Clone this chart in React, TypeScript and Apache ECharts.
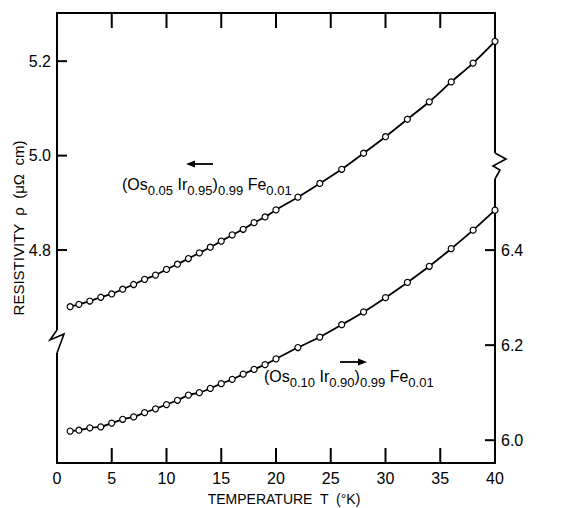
import React, { useEffect, useRef } from "react";
import * as echarts from "echarts";

// Temperature (K)
const temps = [1.2, 2, 3, 4, 5, 6, 7, 8, 9, 10, 11, 12, 13, 14, 15, 16, 17, 18, 19, 20, 22, 24, 26, 28, 30, 32, 34, 36, 38, 40];
// (Os0.05 Ir0.95)0.99 Fe0.01 — left axis
const rhoA = [4.680, 4.685, 4.692, 4.700, 4.707, 4.717, 4.727, 4.738, 4.747, 4.759, 4.770, 4.782, 4.794, 4.806, 4.819, 4.832, 4.844, 4.858, 4.870, 4.885, 4.912, 4.941, 4.971, 5.005, 5.040, 5.077, 5.114, 5.156, 5.196, 5.242];
// (Os0.10 Ir0.90)0.99 Fe0.01 — right axis
const rhoB = [6.019, 6.021, 6.026, 6.028, 6.036, 6.044, 6.049, 6.058, 6.066, 6.075, 6.084, 6.095, 6.100, 6.109, 6.119, 6.128, 6.139, 6.149, 6.159, 6.171, 6.195, 6.217, 6.243, 6.270, 6.300, 6.332, 6.366, 6.403, 6.442, 6.484];

const xTicks = [5, 10, 15, 20, 25, 30, 35];
const leftTicks = [4.8, 5.0, 5.2];
const rightTicks = [6.0, 6.2, 6.4];

const FONT = "Liberation Sans, Arial, sans-serif";

export default function App() {
  const ref = useRef<HTMLDivElement>(null);
  useEffect(() => {
    if (!ref.current) return;
    const chart = echarts.init(ref.current, undefined, { renderer: "svg" });
    const ls = () => ({ color: "#000", width: 2 });
    const X_MIN = 0, X_MAX = 40;
    const L_MIN = 4.349, L_MAX = 5.302;
    const R_MIN = 5.952, R_MAX = 6.899;

    const xAxisDef = (position: "top" | "bottom", showLabel: boolean) => ({
      type: "value" as const,
      position,
      min: X_MIN,
      max: X_MAX,
      interval: 5,
      axisLine: { show: true, onZero: false, lineStyle: ls() },
      axisTick: { show: false },
      axisLabel: showLabel
        ? { show: true, color: "#000", fontSize: 16, fontFamily: FONT, margin: 7 }
        : { show: false },
      splitLine: { show: false },
    });
    const yAxisDef = (position: "left" | "right", min: number, max: number, ticks: number[]) => ({
      type: "value" as const,
      position,
      min,
      max,
      axisLine: { show: true, onZero: false, lineStyle: ls() },
      axisTick: { show: false },
      axisLabel: {
        customValues: ticks,
        formatter: (v: number) => v.toFixed(1),
        color: "#000",
        fontSize: 16,
        fontFamily: FONT,
        margin: 6,
      },
      splitLine: { show: false },
    });

    const seriesBase = {
      type: "line" as const,
      smooth: 0.3,
      symbol: "circle",
      symbolSize: 6,
      lineStyle: { color: "#000", width: 1.8 },
      itemStyle: { color: "#fff", borderColor: "#000", borderWidth: 1.2 },
    };
    const rich = {
      n: { fontSize: 16, fontFamily: FONT, color: "#000", lineHeight: 17, verticalAlign: "top" },
      s: { fontSize: 13, fontFamily: FONT, color: "#000", lineHeight: 21, verticalAlign: "bottom" },
    };
    const label = (a: string, b: string) =>
      `{n|(Os}{s|${a}}{n| Ir}{s|${b}}{n|)}{s|0.99}{n| Fe}{s|0.01}`;

    chart.setOption({
      animation: false,
      backgroundColor: "#fff",
      grid: { left: 57, right: 72, top: 13, bottom: 45 },
      xAxis: [xAxisDef("bottom", true), xAxisDef("top", false)],
      yAxis: [
        yAxisDef("left", L_MIN, L_MAX, leftTicks),
        yAxisDef("right", R_MIN, R_MAX, rightTicks),
      ],
      series: [
        { ...seriesBase, name: "A", xAxisIndex: 0, yAxisIndex: 0, data: temps.map((t, i) => [t, rhoA[i]]) },
        { ...seriesBase, name: "B", xAxisIndex: 0, yAxisIndex: 1, data: temps.map((t, i) => [t, rhoB[i]]) },
      ],
    });

    // tick marks placed through the chart's own scales
    const tickStyle = { stroke: "#000", lineWidth: 2 };
    const pA = (x: number, y: number) => chart.convertToPixel({ seriesIndex: 0 }, [x, y]) as number[];
    const pB = (x: number, y: number) => chart.convertToPixel({ seriesIndex: 1 }, [x, y]) as number[];
    const tickEls: any[] = [];
    xTicks.forEach((t) => {
      const b = pA(t, L_MIN);
      const tp = pA(t, L_MAX);
      if (b && tp) {
        tickEls.push({ type: "line", shape: { x1: b[0], y1: b[1], x2: b[0], y2: b[1] - 15 }, style: tickStyle, z: 50 });
        tickEls.push({ type: "line", shape: { x1: tp[0], y1: tp[1], x2: tp[0], y2: tp[1] + 15 }, style: tickStyle, z: 50 });
      }
    });
    leftTicks.forEach((v) => {
      const p = pA(X_MIN, v);
      if (p) tickEls.push({ type: "line", shape: { x1: p[0], y1: p[1], x2: p[0] + 10, y2: p[1] }, style: tickStyle, z: 50 });
    });
    rightTicks.forEach((v) => {
      const p = pB(X_MAX, v);
      if (p) tickEls.push({ type: "line", shape: { x1: p[0], y1: p[1], x2: p[0] - 10, y2: p[1] }, style: tickStyle, z: 50 });
    });

    chart.setOption({
      graphic: [
        ...tickEls,
        // axis breaks
        { type: "rect", shape: { x: 53, y: 330, width: 8, height: 23 }, style: { fill: "#fff" }, z: 100 },
        {
          type: "polyline",
          shape: { points: [[57, 330], [50, 340], [64, 334], [57, 353]] },
          style: { stroke: "#000", lineWidth: 1.6, fill: "none" },
          z: 101,
        },
        { type: "rect", shape: { x: 491, y: 153, width: 8, height: 26 }, style: { fill: "#fff" }, z: 100 },
        {
          type: "polyline",
          shape: { points: [[495, 153], [506, 159], [493, 166], [500, 170], [495, 179]] },
          style: { stroke: "#000", lineWidth: 1.6, fill: "none" },
          z: 101,
        },
        // axis names
        {
          type: "text",
          x: 18,
          y: 228,
          rotation: Math.PI / 2,
          style: {
            text: "RESISTIVITY  ρ  (μΩ  cm)",
            font: `15px ${FONT}`,
            fill: "#000",
            align: "center",
            verticalAlign: "middle",
          },
        },
        {
          type: "text",
          x: 284,
          y: 499,
          style: {
            text: "TEMPERATURE  T  (°K)",
            font: `14px ${FONT}`,
            fill: "#000",
            align: "center",
            verticalAlign: "middle",
          },
        },
        // series labels
        {
          type: "text",
          x: 122,
          y: 176,
          style: { text: label("0.05", "0.95"), rich, align: "left", verticalAlign: "top" },
        },
        {
          type: "text",
          x: 264,
          y: 368,
          style: { text: label("0.10", "0.90"), rich, align: "left", verticalAlign: "top" },
        },
        // arrows
        { type: "line", shape: { x1: 213, y1: 164, x2: 192, y2: 164 }, style: { stroke: "#000", lineWidth: 1.8 } },
        { type: "polygon", shape: { points: [[186, 164], [195, 160.5], [195, 167.5]] }, style: { fill: "#000" } },
        { type: "line", shape: { x1: 340, y1: 362, x2: 361, y2: 362 }, style: { stroke: "#000", lineWidth: 1.8 } },
        { type: "polygon", shape: { points: [[367, 362], [358, 358.5], [358, 365.5]] }, style: { fill: "#000" } },
      ],
    });
    return () => chart.dispose();
  }, []);
  return (
    <div
      ref={ref}
      style={{ position: "fixed", left: 0, top: 0, width: 567, height: 508, background: "#fff" }}
    />
  );
}
